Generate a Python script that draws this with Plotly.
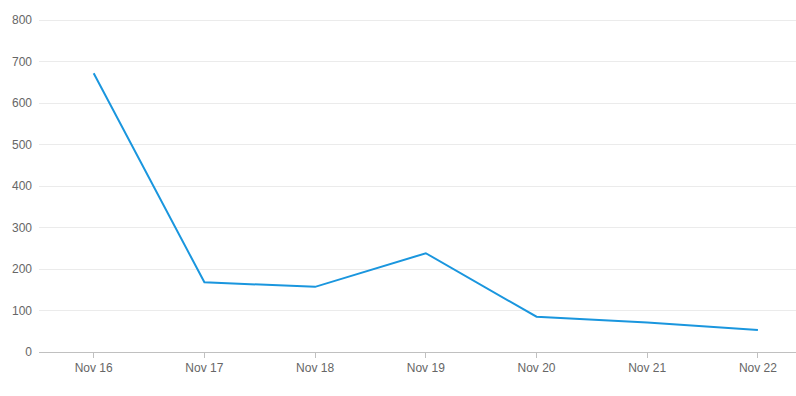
import plotly.graph_objects as go

dates = ["Nov 16", "Nov 17", "Nov 18", "Nov 19", "Nov 20", "Nov 21", "Nov 22"]
values = [672, 168, 157, 238, 85, 71, 53]
y_ticks = [0, 100, 200, 300, 400, 500, 600, 700, 800]

fig = go.Figure()
fig.add_trace(go.Scatter(
    x=list(range(len(dates))), y=values, mode="lines",
    line=dict(color="#1a96de", width=2),
    hoverinfo="y",
))

fig.update_layout(
    width=796, height=396,
    margin=dict(l=39, r=0, t=18, b=44, autoexpand=False),
    paper_bgcolor="white", plot_bgcolor="white",
    showlegend=False,
    font=dict(family="Liberation Sans, Arial, sans-serif", size=12, color="#666666"),
    xaxis=dict(
        tickmode="array", tickvals=list(range(len(dates))), ticktext=dates,
        range=[-0.494, 6.344], showgrid=False, zeroline=False,
        showline=True, linecolor="#c0c0c0", linewidth=1,
        ticks="outside", ticklen=5, tickcolor="#c0c0c0",
        tickfont=dict(size=12, color="#666666"), automargin=False,
    ),
    yaxis=dict(
        range=[0, 805], tickvals=y_ticks, showgrid=True, gridcolor="#ebebeb",
        zeroline=False, showline=False, ticks="", ticklen=0,
        ticklabelstandoff=6,
        tickfont=dict(size=12, color="#666666"), automargin=False,
    ),
)

fig.write_html(
    "out.html",
    config={"displayModeBar": False},
    post_script="document.body.style.margin='0';document.body.style.padding='0';",
)
